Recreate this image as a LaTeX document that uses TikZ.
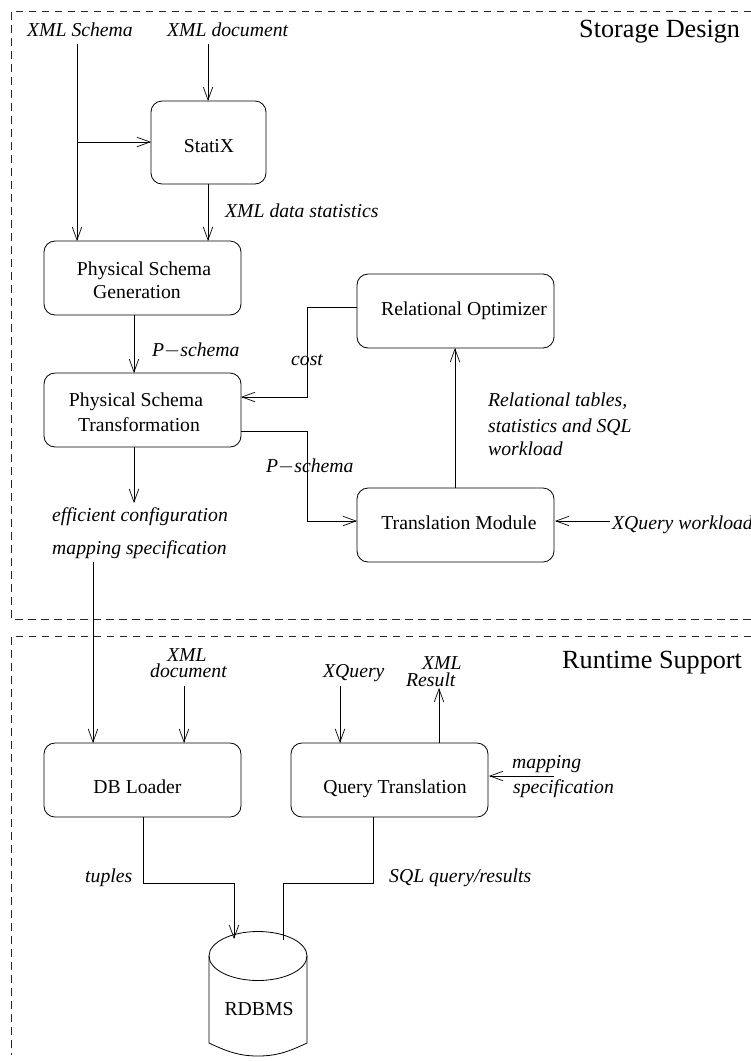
\documentclass[tikz,border=0pt]{standalone}
\usepackage{fontspec}
\setmainfont{Liberation Serif}
\usetikzlibrary{arrows.meta}
\tikzset{
  x=1pt,y=-1pt,
  box/.style={draw,line width=0.8pt,rounded corners=11pt},
  lbl/.style={inner sep=0pt,font=\fontsize{19.7}{22}\selectfont\itshape,anchor=base west,align=left},
  tit/.style={inner sep=0pt,font=\fontsize{19.7}{22}\selectfont,anchor=base,align=center},
  hd/.style={inner sep=0pt,font=\fontsize{26.2}{30}\selectfont,anchor=base west},
  arr/.style={draw,line width=0.8pt,-{Straight Barb[length=13pt,width=9.5pt,line width=0.7pt]}},
  ln/.style={draw,line width=0.8pt},
  dsh/.style={draw,line width=0.7pt,gray!30!black,dash pattern=on 7.5pt off 5.5pt}
}
\begin{document}
\begin{tikzpicture}
\useasboundingbox (0,0) rectangle (751,1061);
% panels
\coordinate (p1a) at (751,11); \coordinate (p1b) at (11,11); \coordinate (p1c) at (11,619); \coordinate (p1d) at (751,619);
\coordinate (p2a) at (751,636); \coordinate (p2b) at (11,636); \coordinate (p2c) at (11,1055);
\draw[dsh] (p1a)--(p1b)--(p1c)--(p1d);
\draw[dsh] (p2a)--(p2b)--(p2c);
\node[hd] (h1) at (579,37) {Storage Design};
\node[hd] (h2) at (562,668) {Runtime Support};
% boxes
\draw[box] (151,101) rectangle (266,184);
\node[tit] (sx) at (209,152) {StatiX};
\coordinate (sxT) at (208,101); \coordinate (sxB) at (208,184); \coordinate (sxL) at (151,142);
\draw[box] (44,241) rectangle (241,315);
\node[tit] at (144,275) {Physical Schema};
\node[tit] at (137,298) {Generation};
\coordinate (pgT1) at (77,241); \coordinate (pgT2) at (208,241); \coordinate (pgB) at (134,315);
\draw[box] (44,373) rectangle (241,447);
\node[tit] at (136,406) {Physical Schema};
\node[tit] at (139,431) {Transformation};
\coordinate (ptT) at (134,373); \coordinate (ptB) at (134,447); \coordinate (ptR1) at (241,397); \coordinate (ptR2) at (241,431);
\draw[box] (357,274) rectangle (554,348);
\node[tit] at (464,315) {Relational Optimizer};
\coordinate (roL) at (357,307); \coordinate (roB) at (455,348);
\draw[box] (357,488) rectangle (554,562);
\node[tit] at (459,529) {Translation Module};
\coordinate (tmL) at (357,521); \coordinate (tmT) at (455,488); \coordinate (tmR) at (555,521);
\draw[box] (44,743) rectangle (241,817);
\node[tit] at (137.5,793) {DB Loader};
\coordinate (dbT1) at (93,743); \coordinate (dbT2) at (184,743); \coordinate (dbB) at (143,817);
\draw[box] (291,743) rectangle (488,817);
\node[tit] at (395,793) {Query Translation};
\coordinate (qtT1) at (340,743); \coordinate (qtT2) at (439,743); \coordinate (qtR) at (489,776); \coordinate (qtB) at (373,817);
% cylinder
\draw[line width=0.8pt] (209,956) arc[start angle=180,end angle=-180,x radius=49,y radius=24.5];
\draw[line width=0.8pt] (209,956) -- (209,1043) .. controls (228,1052) and (240,1056) .. (258,1056) .. controls (276,1056) and (288,1052) .. (307,1043) -- (307,956);
\node[tit] (rd) at (259,1015) {RDBMS};
\coordinate (cyA) at (234,939); \coordinate (cyB) at (283,940);
% free ends
\coordinate (a1) at (77,44); \coordinate (a2) at (208,44); \coordinate (a3) at (77,142);
\coordinate (a4) at (134,503); \coordinate (a5) at (93,562); \coordinate (a6) at (184,686);
\coordinate (a7) at (340,686); \coordinate (a8) at (439,688); \coordinate (a9) at (554,776); \coordinate (a10) at (610,521);
% connectors
\draw[arr] (a1)--(pgT1);
\draw[arr] (a2)--(sxT);
\draw[arr] (a3)--(sxL);
\draw[arr] (sxB)--(pgT2);
\draw[arr] (pgB)--(ptT);
\draw[arr] (roL)--(307,307)--(307,397)--(ptR1);
\draw[arr] (ptR2)--(307,431)--(307,521)--(tmL);
\draw[arr] (tmT)--(roB);
\draw[arr] (a10)--(tmR);
\draw[arr] (ptB)--(a4);
\draw[arr] (a5)--(dbT1);
\draw[arr] (a6)--(dbT2);
\draw[arr] (a7)--(qtT1);
\draw[arr] (qtT2)--(a8);
\draw[arr] (a9)--(qtR);
\draw[arr] (dbB)--(143,883)--(234,883)--(cyA);
\draw[ln] (qtB)--(373,883)--(283,883)--(cyB);
% labels
\node[lbl] at (27,36) {XML Schema};
\node[lbl] at (167,36) {XML document};
\node[lbl] at (225,217) {XML data statistics};
\node[lbl] at (152,356) {P$-$schema};
\node[lbl] at (291,365) {cost};
\node[lbl] at (488,406) {Relational tables,};
\node[lbl] at (488,432) {statistics and SQL};
\node[lbl] at (488,455) {workload};
\node[lbl] at (266,472) {P$-$schema};
\node[lbl] at (52,521) {efficient configuration};
\node[lbl] at (52,554) {mapping specification};
\node[lbl] at (612,529) {XQuery workload};
\node[lbl] at (167,661) {XML};
\node[lbl] at (150,677) {document};
\node[lbl] at (323,677) {XQuery};
\node[lbl] at (422,669) {XML};
\node[lbl] at (406,686) {Result};
\node[lbl] at (512,768) {mapping};
\node[lbl] at (513,793) {specification};
\node[lbl] at (85,882) {tuples};
\node[lbl] at (389,882) {SQL query/results};
\end{tikzpicture}
\end{document}
